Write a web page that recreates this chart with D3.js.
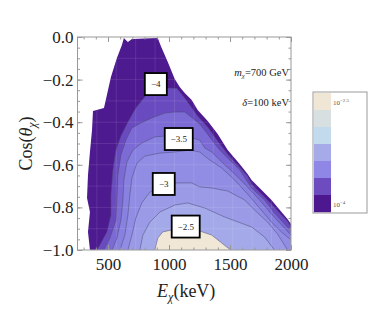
<!DOCTYPE html>
<html>
<head>
<meta charset="utf-8">
<script src="https://cdnjs.cloudflare.com/ajax/libs/d3/7.8.5/d3.min.js"></script>
<style>
  body { margin: 0; background: #fff; }
  text { font-family: "Liberation Serif", "DejaVu Serif", serif; }
</style>
</head>
<body>
<div id="chart"></div>
<script>
// ---- data: [E (keV), cos(theta)] ----
var domainEdge = [[352,-1.0],[336,-0.915],[352,-0.822],[328,-0.756],[336,-0.648],[352,-0.540],[369,-0.437],
  [377,-0.347],[467,-0.333],[491,-0.272],[524,-0.188],[573,-0.099],[614,-0.038],[630,-0.005],[663,-0.023],
  [696,-0.009],[908,-0.005],[933,-0.042],[990,-0.117],[1047,-0.197],[1088,-0.235],[1129,-0.263],[1186,-0.296],
  [1235,-0.343],[1317,-0.394],[1399,-0.455],[1481,-0.531],[1579,-0.596],[1644,-0.643],[1677,-0.671],
  [1759,-0.718],[1840,-0.765],[1922,-0.822],[1971,-0.854],[2000,-0.878]];

var contourLevels = [-4, -3.75, -3.5, -3.25, -3, -2.75, -2.5];

var contourLines = [
  // -4
  [[409,-1.0],[442,-0.967],[491,-0.915],[524,-0.836],[524,-0.742],[540,-0.624],[565,-0.531],[606,-0.465],
   [663,-0.399],[728,-0.333],[810,-0.275],[908,-0.248],[990,-0.240],[1064,-0.241],[1129,-0.286],[1235,-0.371],
   [1317,-0.423],[1399,-0.488],[1481,-0.549],[1562,-0.601],[1644,-0.653],[1677,-0.690],[1759,-0.737],
   [1840,-0.784],[1922,-0.836],[1971,-0.864],[2000,-0.892]],
  // -3.75
  [[467,-1.0],[516,-0.944],[565,-0.859],[573,-0.765],[581,-0.648],[606,-0.554],[647,-0.484],[696,-0.427],
   [769,-0.404],[859,-0.380],[965,-0.357],[1047,-0.352],[1129,-0.352],[1252,-0.408],[1333,-0.469],
   [1415,-0.531],[1497,-0.577],[1579,-0.624],[1677,-0.709],[1783,-0.765],[1865,-0.826],[1947,-0.878],[2000,-0.911]],
  // -3.5
  [[532,-1.0],[573,-0.944],[606,-0.859],[622,-0.765],[630,-0.671],[655,-0.587],[704,-0.531],[777,-0.498],
   [884,-0.469],[965,-0.465],[1080,-0.479],[1194,-0.474],[1252,-0.484],[1293,-0.521],[1350,-0.540],
   [1432,-0.587],[1538,-0.643],[1636,-0.700],[1742,-0.765],[1840,-0.831],[1930,-0.887],[2000,-0.930]],
  // -3.25
  [[598,-1.0],[638,-0.930],[663,-0.836],[679,-0.742],[696,-0.662],[737,-0.592],[802,-0.559],[925,-0.545],
   [1047,-0.540],[1170,-0.531],[1252,-0.540],[1333,-0.577],[1432,-0.615],[1538,-0.671],[1644,-0.737],
   [1742,-0.803],[1840,-0.869],[1922,-0.915],[2000,-0.953]],
  // -3
  [[663,-1.0],[696,-0.930],[728,-0.850],[777,-0.779],[843,-0.728],[957,-0.690],[1072,-0.685],[1186,-0.685],
   [1252,-0.704],[1350,-0.709],[1481,-0.723],[1620,-0.765],[1701,-0.812],[1808,-0.869],[1890,-0.925],
   [1947,-0.977],[1971,-1.0]],
  // -2.75
  [[761,-1.0],[786,-0.930],[843,-0.869],[925,-0.822],[1047,-0.789],[1154,-0.779],[1293,-0.803],[1456,-0.845],
   [1677,-0.892],[1783,-0.939],[1865,-1.0]],
  // -2.5
  [[884,-1.0],[908,-0.944],[949,-0.915],[1023,-0.906],[1137,-0.901],[1252,-0.911],[1350,-0.930],
   [1432,-0.967],[1505,-1.0]]
];

var bandColors = ["#4e1a90", "#6a4bbf", "#7c6bd5", "#8881e0", "#918de4", "#9a9ae7", "#a4a9e9", "#f0e7d6"];

var contourLabels = [
  { text: "\u22124",   e: 892,  cos: -0.221 },
  { text: "\u22123.5", e: 1080, cos: -0.479 },
  { text: "\u22123",   e: 957,  cos: -0.690 },
  { text: "\u22122.5", e: 1137, cos: -0.890 }
];

var legendColors = ["#efe6d6", "#d8dfe1", "#c3d9ec", "#a7aae8", "#8f86e6", "#6c4cbe", "#4d1790"];
var legendLabels = [{ base: "10", exp: "\u22122.5" }, { base: "10", exp: "\u22124" }];

var xTicks = [500, 1000, 1500, 2000];
var yTicks = [0, -0.2, -0.4, -0.6, -0.8, -1.0];

// ---- drawing ----
var W = 374, H = 312;
var frame = { left: 77.5, right: 291, top: 37, bottom: 250 };

var svg = d3.select("#chart").append("svg")
  .attr("width", W).attr("height", H);

var x = d3.scaleLinear().domain([250, 2000]).range([frame.left, frame.right]);
var y = d3.scaleLinear().domain([-1, 0]).range([frame.bottom, frame.top]);

var line = d3.line().x(function (d) { return x(d[0]); }).y(function (d) { return y(d[1]); });

function bandPath(pts) {
  var p = pts.slice();
  var last = p[p.length - 1];
  if (last[1] > -1) p.push([2000, -1]);
  return line(p) + "Z";
}

svg.append("clipPath").attr("id", "dom")
  .append("path").attr("d", bandPath(domainEdge));

var plot = svg.append("g");

plot.append("path").attr("d", bandPath(domainEdge)).attr("fill", bandColors[0]);
contourLines.forEach(function (pts, i) {
  plot.append("path").attr("d", bandPath(pts)).attr("fill", bandColors[i + 1]);
});

// faint mesh
var mesh = plot.append("g").attr("clip-path", "url(#dom)")
  .attr("stroke", "#fff").attr("stroke-opacity", 0.13).attr("stroke-width", 0.8);
d3.range(250, 2001, 159).forEach(function (e) {
  mesh.append("line").attr("x1", x(e)).attr("x2", x(e)).attr("y1", frame.top).attr("y2", frame.bottom);
});
d3.range(-1, 0.001, 0.1).forEach(function (c) {
  mesh.append("line").attr("x1", frame.left).attr("x2", frame.right).attr("y1", y(c)).attr("y2", y(c));
});

contourLines.forEach(function (pts) {
  plot.append("path").attr("d", line(pts))
    .attr("fill", "none").attr("stroke", "#4a4870").attr("stroke-opacity", 0.7).attr("stroke-width", 0.7);
});

// contour labels
contourLabels.forEach(function (lb) {
  var w = lb.text.length > 2 ? 28 : 22, h = 22;
  var g = svg.append("g").attr("transform", "translate(" + x(lb.e) + "," + y(lb.cos) + ")");
  g.append("rect").attr("x", -w / 2).attr("y", -h / 2).attr("width", w).attr("height", h)
    .attr("fill", "#fff").attr("stroke", "#000").attr("stroke-width", 1.8);
  g.append("text").attr("text-anchor", "middle").attr("dy", "0.33em")
    .attr("font-size", 9).attr("fill", "#222").text(lb.text);
});

// frame and ticks
svg.append("rect").attr("x", frame.left).attr("y", frame.top)
  .attr("width", frame.right - frame.left).attr("height", frame.bottom - frame.top)
  .attr("fill", "none").attr("stroke", "#999").attr("stroke-width", 1);

function styleAxis(g) {
  g.select(".domain").remove();
  g.selectAll(".tick line").attr("stroke", "#999");
  g.selectAll(".tick text").attr("fill", "#222").attr("font-size", 17)
    .attr("font-family", "Liberation Serif");
}

var xMinor = d3.range(300, 2001, 100);
var yMinor = d3.range(-1, 0.001, 0.05);

svg.append("g").attr("transform", "translate(0," + frame.bottom + ")")
  .call(d3.axisBottom(x).tickValues(xMinor).tickSize(-2.5).tickFormat(""))
  .call(styleAxis);
svg.append("g").attr("transform", "translate(0," + frame.bottom + ")")
  .call(d3.axisBottom(x).tickValues(xTicks).tickSize(-5).tickPadding(8).tickFormat(d3.format("d")))
  .call(styleAxis);
svg.append("g").attr("transform", "translate(0," + frame.top + ")")
  .call(d3.axisTop(x).tickValues(xMinor).tickSize(-2.5).tickFormat(""))
  .call(styleAxis);
svg.append("g").attr("transform", "translate(0," + frame.top + ")")
  .call(d3.axisTop(x).tickValues(xTicks).tickSize(-5).tickFormat(""))
  .call(styleAxis);

svg.append("g").attr("transform", "translate(" + frame.left + ",0)")
  .call(d3.axisLeft(y).tickValues(yMinor).tickSize(-2.5).tickFormat(""))
  .call(styleAxis);
svg.append("g").attr("transform", "translate(" + frame.left + ",0)")
  .call(d3.axisLeft(y).tickValues(yTicks).tickSize(-5).tickPadding(4).tickFormat(d3.format(".1f")))
  .call(styleAxis);
svg.append("g").attr("transform", "translate(" + frame.right + ",0)")
  .call(d3.axisRight(y).tickValues(yMinor).tickSize(-2.5).tickFormat(""))
  .call(styleAxis);
svg.append("g").attr("transform", "translate(" + frame.right + ",0)")
  .call(d3.axisRight(y).tickValues(yTicks).tickSize(-5).tickFormat(""))
  .call(styleAxis);

// axis titles
var xt = svg.append("text").attr("x", (frame.left + frame.right) / 2 + 2).attr("y", 297)
  .attr("text-anchor", "middle").attr("font-size", 18).attr("fill", "#222");
xt.append("tspan").attr("font-style", "italic").text("E");
xt.append("tspan").attr("font-style", "italic").attr("font-size", 12).attr("dy", 4).text("\u03c7");
xt.append("tspan").attr("dy", -4).text("(keV)");

var yt = svg.append("text")
  .attr("transform", "translate(32," + ((frame.top + frame.bottom) / 2) + ") rotate(-90)")
  .attr("text-anchor", "middle").attr("font-size", 18).attr("fill", "#222");
yt.append("tspan").text("Cos(");
yt.append("tspan").attr("font-style", "italic").text("\u03b8");
yt.append("tspan").attr("font-style", "italic").attr("font-size", 12).attr("dy", 4).text("\u03c7");
yt.append("tspan").attr("dy", -4).text(")");

// annotation
var a1 = svg.append("text").attr("x", 289).attr("y", 76).attr("text-anchor", "end")
  .attr("font-size", 10.5).attr("fill", "#222");
a1.append("tspan").attr("font-style", "italic").text("m");
a1.append("tspan").attr("font-style", "italic").attr("font-size", 7).attr("dy", 2).text("\u03c7");
a1.append("tspan").attr("dy", -2).text("=700 GeV");
var a2 = svg.append("text").attr("x", 289).attr("y", 106).attr("text-anchor", "end")
  .attr("font-size", 10.5).attr("fill", "#222");
a2.append("tspan").attr("font-style", "italic").text("\u03b4");
a2.append("tspan").text("=100 keV");

// legend
var lx = 313, ly = 92, lw = 54, lh = 121;
var sh = (lh - 2) / legendColors.length;
var leg = svg.append("g");
legendColors.forEach(function (c, i) {
  leg.append("rect").attr("x", lx + 1).attr("y", ly + 1 + i * sh).attr("width", 17).attr("height", sh + 0.3)
    .attr("fill", c);
});
leg.append("rect").attr("x", lx).attr("y", ly).attr("width", lw).attr("height", lh)
  .attr("fill", "none").attr("stroke", "#999").attr("stroke-width", 1);
legendLabels.forEach(function (lb, i) {
  var t = leg.append("text").attr("x", lx + 20).attr("y", i === 0 ? ly + 13 : ly + lh - 6)
    .attr("font-size", 7).attr("fill", "#555");
  t.append("tspan").text(lb.base);
  t.append("tspan").attr("font-size", 5).attr("dy", -3).text(lb.exp);
});
</script>
</body>
</html>
